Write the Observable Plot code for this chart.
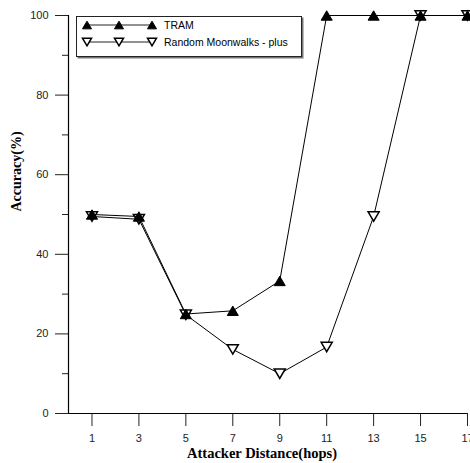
<!DOCTYPE html>
<html>
<head>
<meta charset="utf-8">
<script src="https://cdn.jsdelivr.net/npm/d3@7"></script>
<script src="https://cdn.jsdelivr.net/npm/@observablehq/plot@0.6"></script>
<style>
  html, body { margin: 0; padding: 0; background: #fff; overflow: hidden; }
  #wrap { position: relative; width: 470px; height: 463px; }
  #legend { position: absolute; left: 76px; top: 16px; }
</style>
</head>
<body>
<div id="wrap"><div id="chart"></div><div id="legend"></div></div>
<script>
const hops = [1, 3, 5, 7, 9, 11, 13, 15, 17];
const tram = [50, 49.5, 25, 25.8, 33.3, 100, 100, 100, 100];
const moonwalks = [49.5, 48.8, 24.8, 16.1, 10, 16.7, 49.5, 100, 100];
const seriesNames = ["TRAM", "Random Moonwalks - plus"];
const xTicks = [1, 3, 5, 7, 9, 11, 13, 15, 17];
const yTicks = [0, 20, 40, 60, 80, 100];
const yMinorTicks = [10, 30, 50, 70, 90];

const upTri = {
  draw(ctx, size) {
    const s = Math.sqrt(size);
    const w = 0.8 * s, h = 0.68 * s;
    ctx.moveTo(0, -h); ctx.lineTo(w, h); ctx.lineTo(-w, h); ctx.closePath();
  }
};
const downTri = {
  draw(ctx, size) {
    const s = Math.sqrt(size);
    const w = 0.8 * s, h = 0.68 * s;
    ctx.moveTo(-w, -h); ctx.lineTo(w, -h); ctx.lineTo(0, h); ctx.closePath();
  }
};

const tramData = hops.map((x, i) => ({x, y: tram[i]}));
const rmData = hops.map((x, i) => ({x, y: moonwalks[i]}));
const R = 3.9;

const chart = Plot.plot({
  width: 470,
  height: 463,
  marginLeft: 68,
  marginRight: 3,
  marginTop: 15,
  marginBottom: 50,
  style: {fontFamily: "'Liberation Sans', Arial, sans-serif", fontSize: "11px", background: "white", color: "black"},
  x: {domain: [0, 17]},
  y: {domain: [0, 100]},
  marks: [
    Plot.axisY(yTicks, {tickSize: 13, tickPadding: 7, label: null, stroke: "#222", fill: "#222", strokeWidth: 1}),
    Plot.axisY(yMinorTicks, {tickSize: 6, text: null, label: null, stroke: "#222", strokeWidth: 1}),
    Plot.axisX(xTicks, {tickSize: 13, tickPadding: 8, label: null, stroke: "#222", fill: "#222", strokeWidth: 1}),
    Plot.ruleX([0], {stroke: "black", strokeWidth: 1.2}),
    Plot.ruleY([0], {stroke: "black", strokeWidth: 1.2}),
    Plot.line(rmData, {x: "x", y: "y", stroke: "black", strokeWidth: 1}),
    Plot.dot(rmData, {x: "x", y: "y", symbol: downTri, r: R, fill: "white", stroke: "black", strokeWidth: 1.5}),
    Plot.line(tramData, {x: "x", y: "y", stroke: "black", strokeWidth: 1}),
    Plot.dot(tramData, {x: "x", y: "y", symbol: upTri, r: R, fill: "black", stroke: "black", strokeWidth: 1}),
    Plot.text(["Accuracy(%)"], {frameAnchor: "left", dx: -52, dy: -3, rotate: -90, fontFamily: "'Liberation Serif', 'Times New Roman', serif", fontWeight: "bold", fontSize: 14, fill: "black"}),
    Plot.text(["Attacker Distance(hops)"], {frameAnchor: "bottom", dy: 44, dx: -6, fontFamily: "'Liberation Serif', 'Times New Roman', serif", fontWeight: "bold", fontSize: 14.5, fill: "black"})
  ]
});
document.getElementById("chart").appendChild(chart);

// legend
const lw = 226, lh = 41;
const leg = d3.select("#legend").append("svg").attr("width", lw + 3).attr("height", lh + 3);
leg.append("rect").attr("x", 1.5).attr("y", 1.5).attr("width", lw).attr("height", lh).attr("fill", "#777");
leg.append("rect").attr("x", 0.5).attr("y", 0.5).attr("width", lw - 1).attr("height", lh - 1).attr("fill", "white").attr("stroke", "#222");
const rows = [
  {name: seriesNames[0], sym: upTri, fill: "black", sw: 1, y: 9},
  {name: seriesNames[1], sym: downTri, fill: "white", sw: 1.5, y: 26}
];
const mx = [11, 43, 76];
rows.forEach(r => {
  leg.append("line").attr("x1", mx[0]).attr("x2", mx[2]).attr("y1", r.y).attr("y2", r.y).attr("stroke", "#222");
  mx.forEach(x => {
    leg.append("path").attr("d", d3.symbol(r.sym, 32)())
      .attr("transform", `translate(${x},${r.y})`)
      .attr("fill", r.fill).attr("stroke", "black").attr("stroke-width", r.sw);
  });
  leg.append("text").attr("x", 88).attr("y", r.y).attr("dy", "0.35em")
    .attr("font-family", "'Liberation Sans', Arial, sans-serif").attr("font-size", 10.5).attr("fill", "black").text(r.name);
});
</script>
</body>
</html>
